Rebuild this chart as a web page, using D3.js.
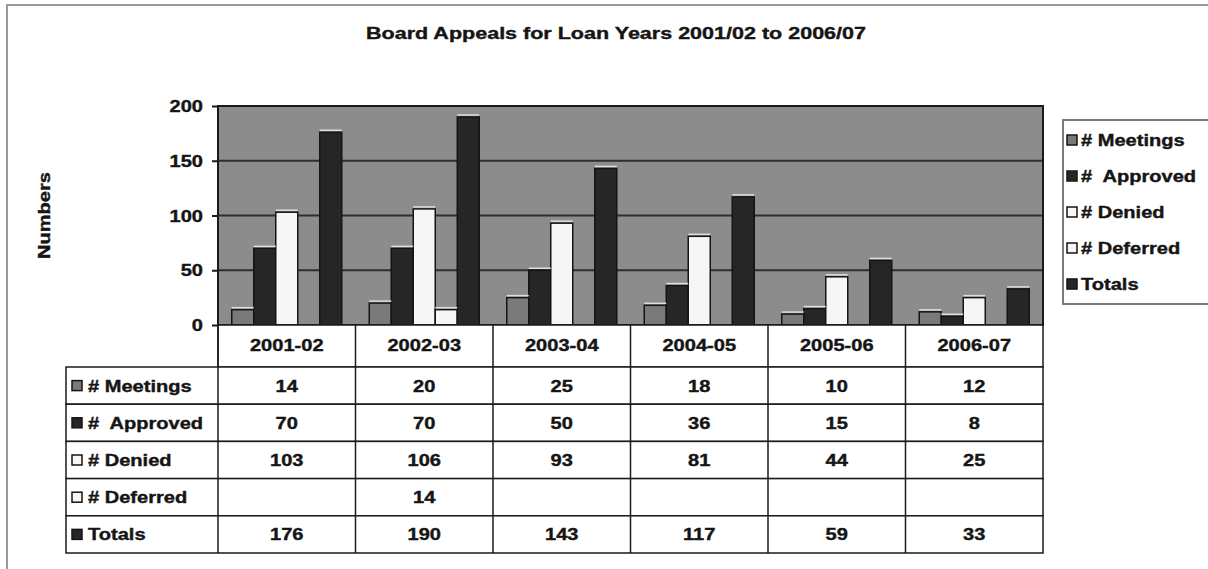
<!DOCTYPE html>
<html>
<head>
<meta charset="utf-8">
<title>Board Appeals for Loan Years</title>
<script src="https://d3js.org/d3.v7.min.js"></script>
<style>
body{ margin:0; background:#fff; }
text{ font-family:"Liberation Sans", Arial, sans-serif; font-weight:bold; fill:#151515; stroke:#151515; stroke-width:0.4px; }
</style>
</head>
<body>
<svg id="chart"></svg>
<script>
// data
var years = ["2001-02", "2002-03", "2003-04", "2004-05", "2005-06", "2006-07"];
var seriesNames = ["# Meetings", "#  Approved", "# Denied", "# Deferred", "Totals"];
var meetings = [14, 20, 25, 18, 10, 12];
var approved = [70, 70, 50, 36, 15, 8];
var denied = [103, 106, 93, 81, 44, 25];
var deferred = [null, 14, null, null, null, null];
var totals = [176, 190, 143, 117, 59, 33];
var yTicks = [0, 50, 100, 150, 200];
var seriesColors = ["#7a7a7a", "#262626", "#f6f6f6", "#f6f6f6", "#262626"];

var allSeries = [meetings, approved, denied, deferred, totals];

var width = 1208, height = 569;
var plot = {left: 218, right: 1043, top: 106, bottom: 325};
var tableLeft = 66, headerBottom = 367, tableBottom = 553;
var SX = 1.18; // scanned text is wider than Arial

var svg = d3.select("#chart").attr("width", width).attr("height", height);

// outer frame
svg.append("rect")
  .attr("x", 7).attr("y", 5).attr("width", 1220).attr("height", 620)
  .attr("fill", "none").attr("stroke", "#9a9a9a").attr("stroke-width", 2);

function label(g, x, y, s, anchor, size, rot){
  return g.append("text")
    .attr("transform", "translate(" + x + "," + y + ")" + (rot ? " rotate(" + rot + ")" : "") + " scale(" + SX + ",1)")
    .attr("text-anchor", anchor)
    .style("font-size", size + "px")
    .style("white-space", "pre")
    .text(s);
}

//scales
var x0 = d3.scaleBand().domain(years).range([plot.left, plot.right]);
var x1 = d3.scaleBand().domain(seriesNames).range([0, x0.bandwidth()]).paddingOuter(0.625);
var y = d3.scaleLinear().domain([0, 200]).range([plot.bottom, plot.top]);

// plot wall
svg.append("rect")
  .attr("x", plot.left).attr("y", plot.top)
  .attr("width", plot.right - plot.left).attr("height", plot.bottom - plot.top)
  .attr("fill", "#8c8c8c");

// gridlines
svg.append("g").selectAll("line")
  .data(yTicks.filter(function(d){ return d > 0 && d < 200; }))
  .enter().append("line")
  .attr("x1", plot.left).attr("x2", plot.right)
  .attr("y1", function(d){ return y(d); }).attr("y2", function(d){ return y(d); })
  .attr("stroke", "#2e2e2e").attr("stroke-width", 2);

// bars
var rows = [];
years.forEach(function(yr, i){
  seriesNames.forEach(function(s, j){
    if(allSeries[j][i] != null) rows.push({year: yr, series: s, value: allSeries[j][i], k: j});
  });
});

var bars = svg.append("g");
bars.selectAll("rect")
  .data(rows)
  .enter().append("rect")
  .attr("x", function(d){ return x0(d.year) + x1(d.series); })
  .attr("y", function(d){ return y(d.value); })
  .attr("width", x1.bandwidth())
  .attr("height", function(d){ return y(0) - y(d.value); })
  .attr("fill", function(d){ return seriesColors[d.k]; })
  .attr("stroke", "#141414").attr("stroke-width", 1.5);
// light top edge of the bars
bars.selectAll("line")
  .data(rows)
  .enter().append("line")
  .attr("x1", function(d){ return x0(d.year) + x1(d.series); })
  .attr("x2", function(d){ return x0(d.year) + x1(d.series) + x1.bandwidth(); })
  .attr("y1", function(d){ return y(d.value) - 2; })
  .attr("y2", function(d){ return y(d.value) - 2; })
  .attr("stroke", "#dedede").attr("stroke-width", 1.5);

// plot border
svg.append("rect")
  .attr("x", plot.left).attr("y", plot.top)
  .attr("width", plot.right - plot.left).attr("height", plot.bottom - plot.top)
  .attr("fill", "none").attr("stroke", "#1a1a1a").attr("stroke-width", 2);

// y axis
var yAxis = d3.axisLeft(y).tickValues(yTicks).tickSize(6).tickPadding(0).tickFormat(function(d){ return ""; });
var yg = svg.append("g").attr("transform", "translate(" + plot.left + ",0)").call(yAxis);
yg.select(".domain").remove();
yg.selectAll("line").attr("stroke", "#1a1a1a").attr("stroke-width", 2);
yTicks.forEach(function(t){
  label(svg, plot.left - 15, y(t) + 6, String(t), "end", 17);
});

// axis title
label(svg, 50, (plot.top + plot.bottom) / 2, "Numbers", "middle", 17, -90);

// chart title
svg.append("text")
  .attr("x", 616).attr("y", 39)
  .attr("text-anchor", "middle")
  .attr("textLength", 500).attr("lengthAdjust", "spacingAndGlyphs")
  .style("font-size", "17px")
  .text("Board Appeals for Loan Years 2001/02 to 2006/07");

// data table
var rowY = d3.scaleBand().domain(seriesNames).range([headerBottom, tableBottom]);
var table = svg.append("g");
table.append("rect")
  .attr("x", plot.left).attr("y", plot.bottom)
  .attr("width", plot.right - plot.left).attr("height", headerBottom - plot.bottom)
  .attr("fill", "#fff").attr("stroke", "#1a1a1a").attr("stroke-width", 1.5);
table.selectAll(".cell")
  .data(seriesNames)
  .enter().append("rect")
  .attr("class", "cell")
  .attr("x", tableLeft).attr("y", function(d){ return rowY(d); })
  .attr("width", plot.right - tableLeft).attr("height", rowY.bandwidth())
  .attr("fill", "#fff").attr("stroke", "#1a1a1a").attr("stroke-width", 1.5);
table.selectAll(".vline")
  .data(years)
  .enter().append("line")
  .attr("class", "vline")
  .attr("x1", function(d){ return x0(d); }).attr("x2", function(d){ return x0(d); })
  .attr("y1", plot.bottom).attr("y2", tableBottom)
  .attr("stroke", "#1a1a1a").attr("stroke-width", 1.5);

years.forEach(function(yr){
  label(table, x0(yr) + x0.bandwidth() / 2, 351, yr, "middle", 17);
});
seriesNames.forEach(function(s, j){
  var cy = rowY(s) + rowY.bandwidth() / 2;
  table.append("rect")
    .attr("x", tableLeft + 6).attr("y", cy - 5)
    .attr("width", 10).attr("height", 10)
    .attr("fill", seriesColors[j]).attr("stroke", "#141414").attr("stroke-width", 1.5);
  label(table, tableLeft + 22, cy + 6, s, "start", 17);
  years.forEach(function(yr, i){
    var v = allSeries[j][i];
    if(v != null) label(table, x0(yr) + x0.bandwidth() / 2, cy + 6, String(v), "middle", 17);
  });
});

// legend
var legend = svg.append("g");
legend.append("rect")
  .attr("x", 1063).attr("y", 120).attr("width", 170).attr("height", 184)
  .attr("fill", "#fff").attr("stroke", "#7a7a7a").attr("stroke-width", 2);
var legY = d3.scalePoint().domain(seriesNames).range([140, 284]);
seriesNames.forEach(function(s, j){
  legend.append("rect")
    .attr("x", 1067).attr("y", legY(s) - 5)
    .attr("width", 10).attr("height", 10)
    .attr("fill", seriesColors[j]).attr("stroke", "#141414").attr("stroke-width", 1.5);
  label(legend, 1081, legY(s) + 6, s, "start", 17);
});
</script>
</body>
</html>
